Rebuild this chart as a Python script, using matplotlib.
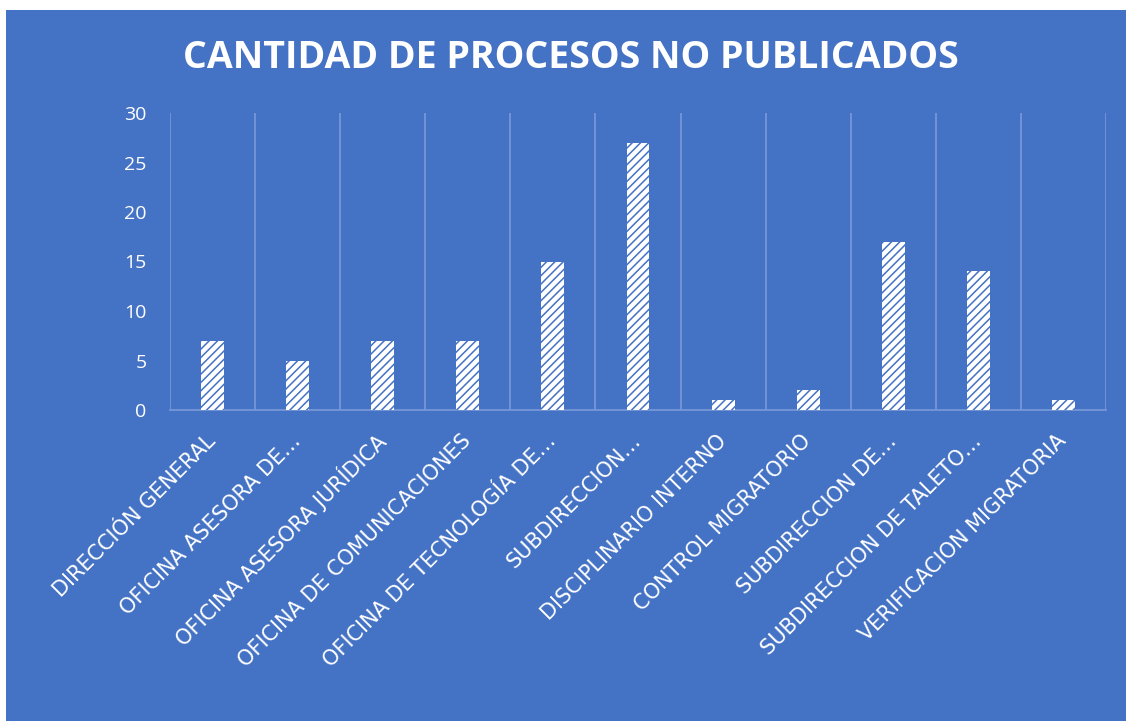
import numpy as np
import matplotlib
matplotlib.use("Agg")
import matplotlib.pyplot as plt
from matplotlib.patches import Rectangle

# data
areas = ["DIRECCIÓN GENERAL", "OFICINA ASESORA DE…", "OFICINA ASESORA JURÍDICA",
         "OFICINA DE COMUNICACIONES", "OFICINA DE TECNOLOGÍA DE…", "SUBDIRECCION…",
         "DISCIPLINARIO INTERNO", "CONTROL MIGRATORIO", "SUBDIRECCION DE…",
         "SUBDIRECCION DE TALETO…", "VERIFICACION MIGRATORIA"]
procesos = [7, 5, 7, 7, 15, 27, 1, 2, 17, 14, 1]
yticks = [0, 5, 10, 15, 20, 25, 30]

bg = "#4472C4"
grid_col = "#7b99d8"

plt.rcParams["font.family"] = ["Open Sans", "DejaVu Sans"]
plt.rcParams["hatch.linewidth"] = 1.1

fig = plt.figure(figsize=(11.26, 7.21), dpi=100, facecolor="white")
# blue chart area (slight white margin at top/left like the screenshot)
fig.patches.append(Rectangle((6 / 1126, 0), 1 - 6 / 1126, 1 - 10 / 721,
                             transform=fig.transFigure, facecolor=bg,
                             edgecolor="none", zorder=-10))

ax = fig.add_axes([170 / 1126, 1 - 410 / 721, 936 / 1126, 297 / 721])
ax.set_facecolor("none")

x = np.arange(len(areas))
ax.bar(x, procesos, width=0.27, color="white", edgecolor=bg, linewidth=0,
       hatch="////", zorder=3)

ax.set_xlim(-0.5, len(areas) - 0.5)
ax.set_ylim(0, 30)
ax.set_yticks(yticks)
ax.set_xticks(x)
ax.set_xticklabels(areas, fontfamily="DejaVu Sans", fontsize=15)

# vertical grid at category boundaries
for b in np.arange(-0.5, len(areas), 1.0):
    ax.axvline(b, color=grid_col, lw=1.2, zorder=1)

for s in ["top", "right", "left"]:
    ax.spines[s].set_visible(False)
ax.spines["bottom"].set_color(grid_col)
ax.spines["bottom"].set_linewidth(1.2)

ax.tick_params(axis="y", length=0, pad=17, labelcolor="white", labelsize=14)
ax.tick_params(axis="x", length=0, pad=20, labelcolor="white")
for lbl in ax.get_xticklabels():
    lbl.set_rotation(45)
    lbl.set_ha("right")
    lbl.set_va("center")
    lbl.set_rotation_mode("anchor")

fig.text(0.507, 1 - 58 / 721, "CANTIDAD DE PROCESOS NO PUBLICADOS",
         ha="center", va="center", color="white", fontsize=27,
         fontweight="bold")

fig.savefig("out.png", dpi=100, facecolor=fig.get_facecolor())
